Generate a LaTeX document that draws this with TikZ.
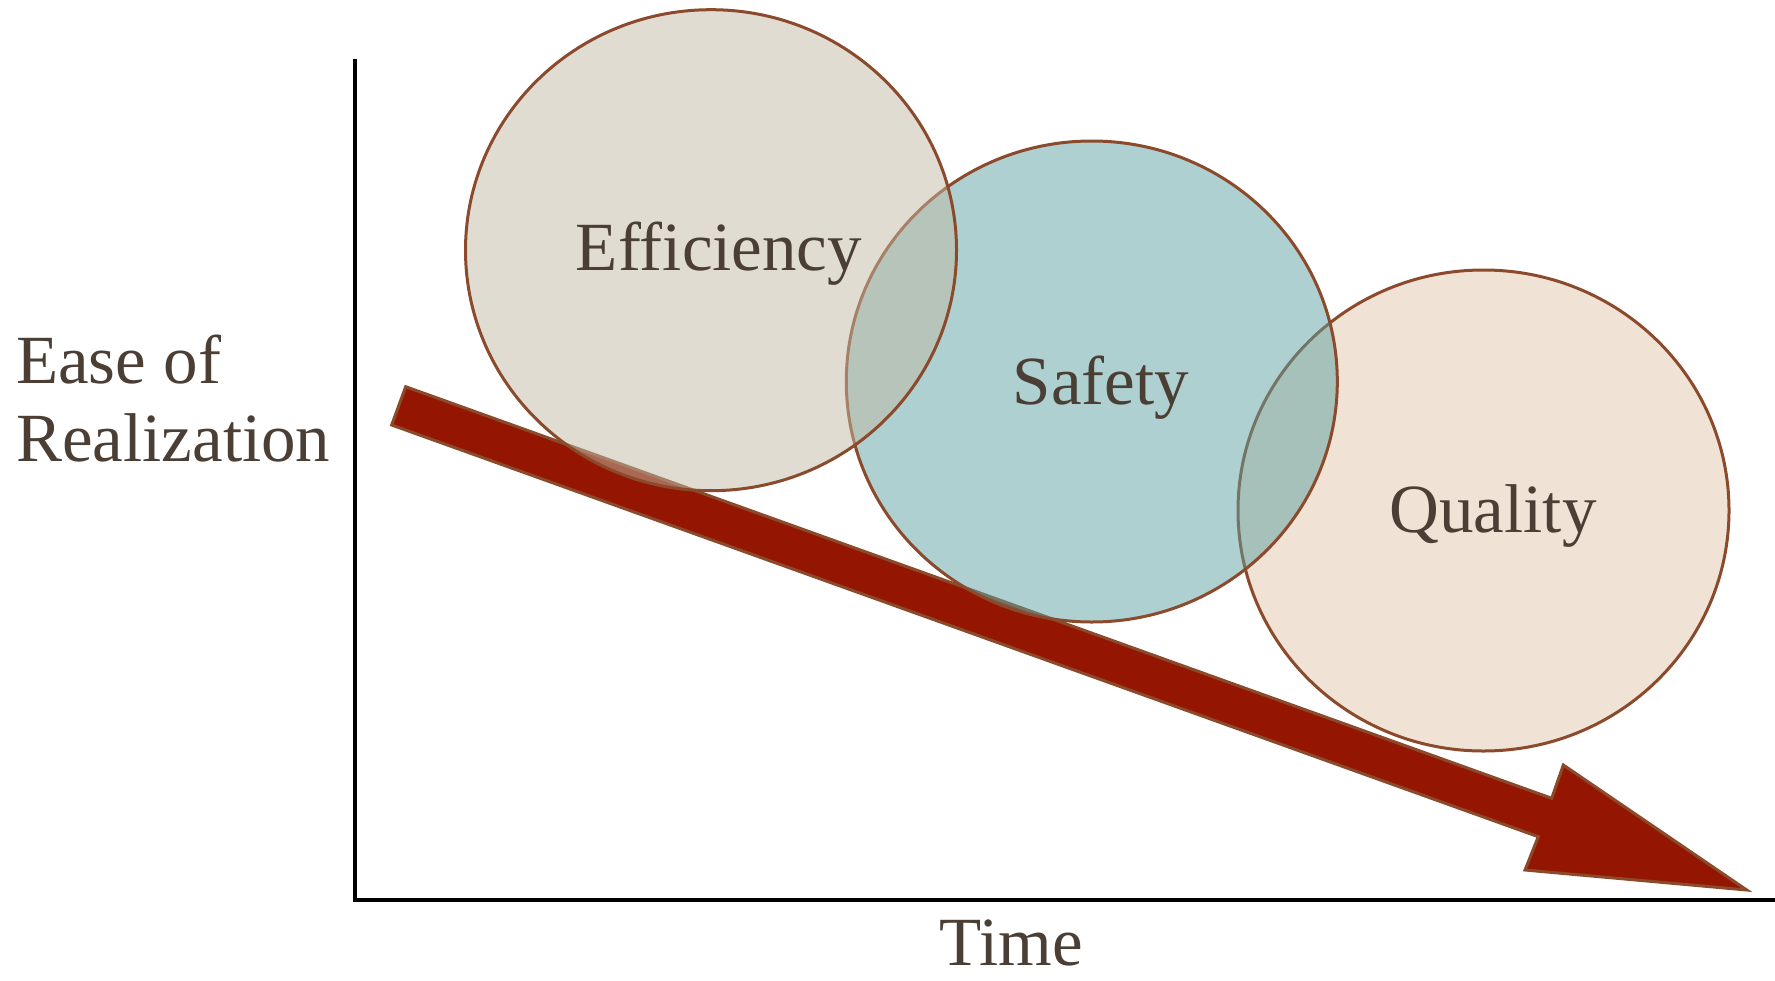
\documentclass[tikz,border=0pt]{standalone}
\usepackage{fontspec}
\setmainfont{Liberation Serif}
\usetikzlibrary{shapes.geometric}
\definecolor{txt}{RGB}{75,62,52}
\definecolor{edge}{RGB}{139,74,43}
\definecolor{arrowred}{RGB}{148,22,0}
\definecolor{effc}{RGB}{193,185,165}
\definecolor{safc}{RGB}{93,161,161}
\definecolor{qualc}{RGB}{225,197,169}
\begin{document}
\begin{tikzpicture}[x=1pt,y=-1pt,
  bubble/.style={ellipse,draw=edge,line width=3pt,fill opacity=0.5,draw opacity=1,
    minimum width=491pt,minimum height=481pt,inner sep=0pt},
  lbl/.style={text=txt,font=\fontsize{69}{79}\selectfont,inner sep=0pt},
  axis/.style={line width=4pt,black},
  bigarrow/.style={fill=arrowred,draw=edge,line width=3pt,line join=miter}]
\useasboundingbox (0,0) rectangle (1775,980);
% axes
\coordinate (ytop) at (355,59);
\coordinate (o) at (355,900);
\coordinate (xend) at (1775,900);
\draw[axis] (ytop) -- (o) -- (xend);
% arrow
\draw[bigarrow] (405.7,386.7) -- (1551.7,798.3) -- (1563.3,765) -- (1746.7,890)
  -- (1525,870) -- (1538.3,836.7) -- (391.7,425) -- cycle;
% bubbles
\node[bubble,fill=qualc] (qual) at (1483.5,510.5) {};
\node[bubble,fill=safc] (saf) at (1091.8,381.5) {};
\node[bubble,fill=effc] (eff) at (711,250.2) {};
% labels
\node[lbl,anchor=base] (efft) at (719,270.7) {Efficiency};
\node[lbl,anchor=base] (saft) at (1101,404) {Safety};
\node[lbl,anchor=base] (qualt) at (1493,532) {Quality};
\node[lbl,anchor=base west] (ease) at (16,383) {Ease of};
\node[lbl,anchor=base west] (real) at (16,461.7) {Realization};
\node[lbl,anchor=base] (time) at (1011.5,965) {Time};
\end{tikzpicture}
\end{document}
